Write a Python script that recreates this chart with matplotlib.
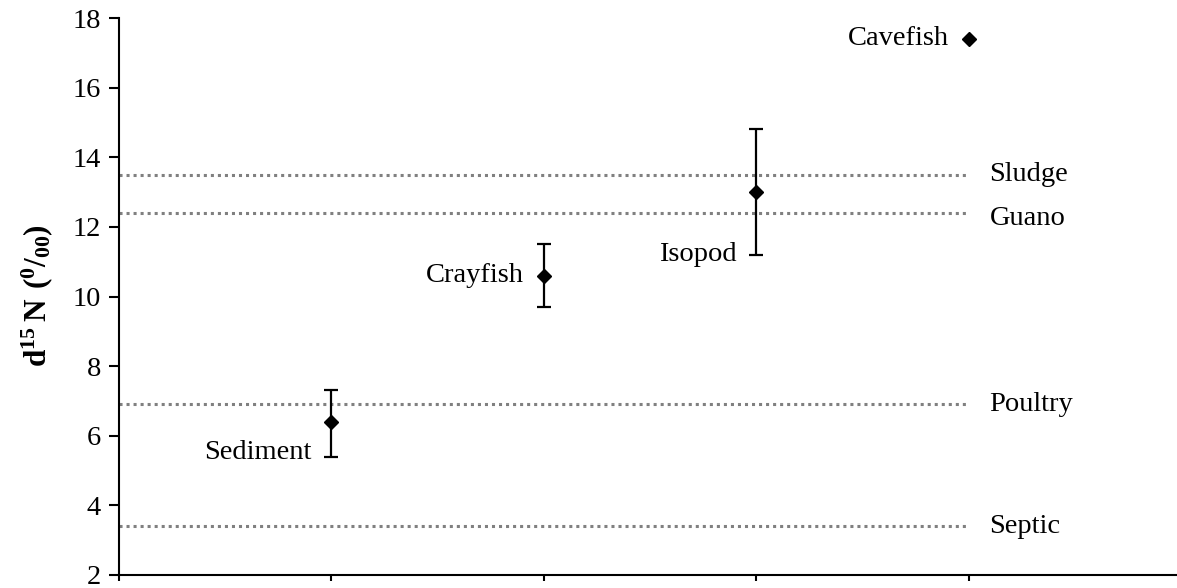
import numpy as np
import matplotlib
matplotlib.use('Agg')
import matplotlib.pyplot as plt

plt.rcParams['font.family'] = ['Liberation Serif', 'DejaVu Serif']
plt.rcParams['mathtext.fontset'] = 'custom'
plt.rcParams['mathtext.rm'] = 'Liberation Serif'
plt.rcParams['mathtext.bf'] = 'Liberation Serif:bold'

# organisms (means and error bar limits)
categories = ['Sediment', 'Crayfish', 'Isopod', 'Cavefish']
means = [6.4, 10.6, 13.0, 17.4]
err_lower = [5.4, 9.7, 11.2]
err_upper = [7.3, 11.5, 14.8]

# nitrogen sources shown as reference lines
sources = ['Sludge', 'Guano', 'Poultry', 'Septic']
source_vals = [13.5, 12.4, 6.9, 3.4]

x = np.arange(1, len(categories) + 1)
fs = 20.5

fig = plt.figure(figsize=(11.77, 5.88), dpi=100)
ax = fig.add_axes([119 / 1177, 13 / 588, 1062 / 1177, 557 / 588])

# reference lines
for name, val in zip(sources, source_vals):
    ax.plot([0, x[-1]], [val, val], color='#808080', lw=2.2,
            linestyle=(0, (1, 1.3)), zorder=1)
    dy = -6 if name == 'Guano' else 0
    ax.annotate(name, (x[-1], val), xytext=(21, dy), textcoords='offset pixels',
                ha='left', va='center', fontsize=fs)

# error bars for the first three groups
n = len(err_lower)
m = np.array(means[:n])
yerr = [m - np.array(err_lower), np.array(err_upper) - m]
ax.errorbar(x[:n], m, yerr=yerr, fmt='none', ecolor='black', elinewidth=1.6,
            capsize=5, capthick=1.6, zorder=2)
ax.plot(x, means, linestyle='none', marker='D', color='black', markersize=7.5, zorder=3)

# point labels
offsets = {'Sediment': (-20, -31), 'Crayfish': (-20, 0),
           'Isopod': (-20, -62), 'Cavefish': (-20, 0)}
for xi, yi, name in zip(x, means, categories):
    ax.annotate(name, (xi, yi), xytext=offsets[name], textcoords='offset pixels',
                ha='right', va='center', fontsize=fs)

ax.set_xlim(0, 5)
ax.set_ylim(2, 18)
ax.set_xticks([0, 1, 2, 3, 4])
ax.set_xticklabels([])
ax.set_yticks(np.arange(2, 19, 2))
ax.tick_params(axis='y', direction='out', length=7, width=1.5, labelsize=fs, pad=6)
ax.tick_params(axis='x', direction='out', length=4, width=1.5)
for s in ['top', 'right']:
    ax.spines[s].set_visible(False)
for s in ['left', 'bottom']:
    ax.spines[s].set_linewidth(1.5)

fig.text(37 / 1177, 1 - 296 / 588, r'$\mathbf{d^{15}\,N\ (^{0}/_{00})}$',
         rotation=90, ha='center', va='center', fontsize=22.5)

fig.savefig('out.png', dpi=100)
